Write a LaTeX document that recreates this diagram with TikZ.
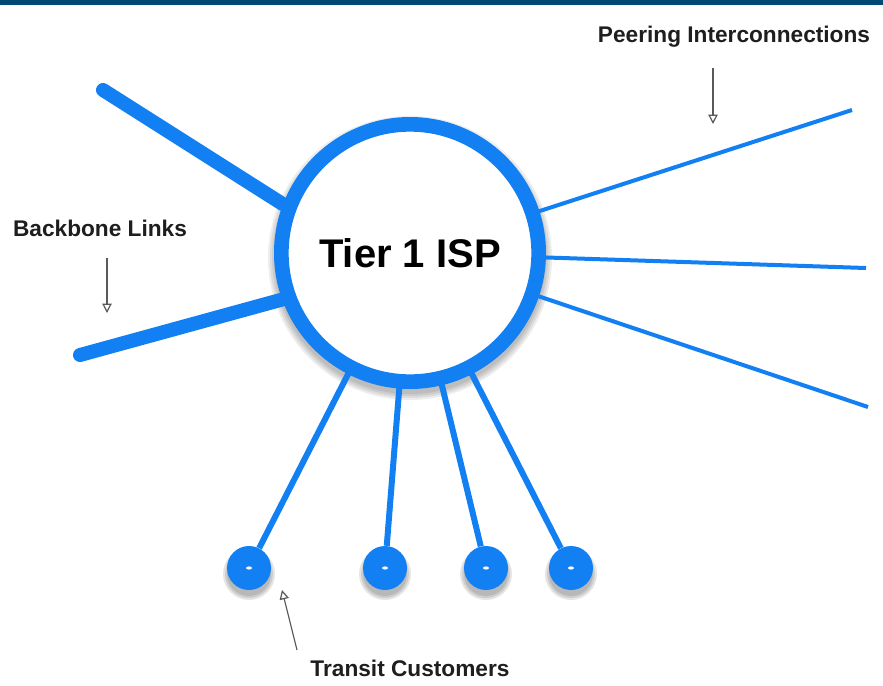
\documentclass[tikz,border=0pt]{standalone}
\usepackage{fontspec}
\setmainfont{Liberation Sans}
\usetikzlibrary{arrows.meta,shapes.geometric,calc}
\definecolor{linkblue}{RGB}{18,128,242}
\definecolor{barblue}{RGB}{0,74,117}
\definecolor{labelgray}{RGB}{30,30,30}
\pgfdeclarelayer{canvas}
\pgfdeclarelayer{background}
\pgfsetlayers{canvas,background,main}
\tikzset{
  isp/.style={circle, draw=linkblue, line width=11pt, fill=white, inner sep=0pt,
    minimum size=193pt, font=\bfseries\fontsize{30}{34}\selectfont},
  customer/.style={circle, fill=linkblue, inner sep=0pt, minimum size=33pt},
  hole/.style={ellipse, fill=white, inner sep=0pt, minimum width=4.5pt, minimum height=2.4pt},
  softshade/.style={fill=black, fill opacity=0.07},
  discshade/.style={fill=black, fill opacity=0.1},
  backbone/.style={draw=linkblue, line width=10.5pt, line cap=round},
  peering/.style={draw=linkblue, line width=3pt},
  access/.style={draw=linkblue, line width=4.5pt},
  label/.style={font=\bfseries\fontsize{17}{20}\selectfont, text=labelgray, inner sep=0pt},
  pointer/.style={draw=black!65, line width=0.9pt,
    -{Triangle[open, length=7pt, width=7pt, line width=0.9pt]}},
}
\begin{document}
\begin{tikzpicture}[x=0.75pt, y=-0.75pt]
\useasboundingbox (0,0) rectangle (883,686);
\begin{pgfonlayer}{canvas}
  \fill[white] (0,0) rectangle (883,686);
  % header strip
  \fill[barblue] (0,0) rectangle (883,5);
\end{pgfonlayer}

% central provider
\node[isp] (core) at (410,253) {Tier 1 ISP};

% transit customers
\node[customer] (cust1) at (249,568) {};
\node[customer] (cust2) at (385,568) {};
\node[customer] (cust3) at (486,568) {};
\node[customer] (cust4) at (571,568) {};
\foreach \i in {1,...,4} \node[hole] (hole\i) at (cust\i) {};

% free ends of the links
\coordinate (bb1) at (103,90);
\coordinate (bb2) at (80,355);
\coordinate (peer1) at (852,110);
\coordinate (peer2) at (866,268);
\coordinate (peer3) at (868,407);

\begin{pgfonlayer}{background}
  % soft shadows under the discs
  \foreach \r in {136,138,140,142}
    \fill[softshade] ($(core.center)+(0,5)$) circle[radius=\r];
  \foreach \i in {1,...,4}
    \foreach \r in {22,24,26}
      \fill[discshade] ($(cust\i.center)+(0,6)$) circle[radius=\r];
  % links
  \draw[backbone] (bb1) -- (core.159);
  \draw[backbone] (bb2) -- (core.200);
  \draw[peering] (core.center) -- (peer1);
  \draw[peering] (core.center) -- (peer2);
  \draw[peering] (core.center) -- (peer3);
  \foreach \i in {1,...,4} \draw[access] (core.center) -- (cust\i);
\end{pgfonlayer}

% labels and pointers
\node[label] (peerlbl) at (734,37) {Peering Interconnections};
\node[label] (bblbl) at (100,228) {Backbone Links};
\node[label] (custlbl) at (410,668) {Transit Customers};

\coordinate (pa1) at (713,68);
\coordinate (pa2) at (713,124);
\coordinate (ba1) at (107,258);
\coordinate (ba2) at (107,313);
\coordinate (ta1) at (297,650);
\coordinate (ta2) at (282,590);
\draw[pointer] (pa1) -- (pa2);
\draw[pointer] (ba1) -- (ba2);
\draw[pointer] (ta1) -- (ta2);
\end{tikzpicture}
\end{document}
